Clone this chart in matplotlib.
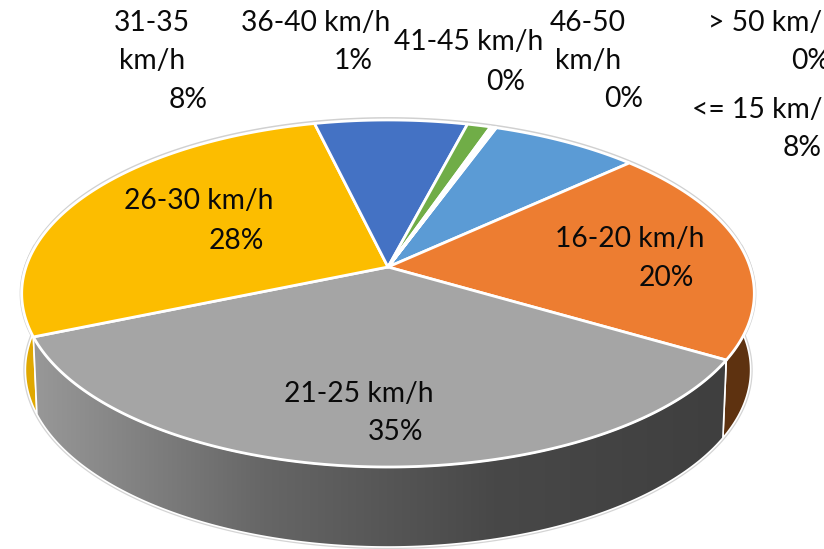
import numpy as np
import matplotlib
matplotlib.use('Agg')
import matplotlib.pyplot as plt
from matplotlib.patches import Polygon
from matplotlib.colors import LinearSegmentedColormap

categories = ['<= 15 km/h', '16-20 km/h', '21-25 km/h', '26-30 km/h', '31-35 km/h',
              '36-40 km/h', '41-45 km/h', '46-50 km/h', '> 50 km/h']
values = [7.6, 20.3, 35.2, 27.6, 7.8, 1.2, 0.15, 0.1, 0.05]
colors = ['#5B9BD5', '#ED7D31', '#A5A5A5', '#FCBD00', '#4472C4',
          '#70AD47', '#255E91', '#9E480E', '#636363']

START = 20.0
CX, APEX_Y, A, B, K = 388.0, 267.0, 362.0, -128.7, 0.1527


def top(theta):
    t = np.radians(theta)
    u, v = np.sin(t), np.cos(t)
    w = 1 + K * v
    return CX + A * u / w, (APEX_Y + B * v) / w


def low(theta):
    x, y = top(theta)
    return CX + (x - CX) * 0.99, y + 76 + (y - APEX_Y) * 0.02


def wall(a, b):
    th = np.linspace(a, b, 200)
    xt, yt = top(th)
    xl, yl = low(th)
    return np.r_[xt, xl[::-1]], np.r_[yt, yl[::-1]]


fig = plt.figure(figsize=(8.24, 5.49), dpi=100)
ax = fig.add_axes([0, 0, 1, 1])
ax.set_xlim(0, 824)
ax.set_ylim(549, 0)
ax.axis('off')

shares = np.array(values) / sum(values)
edges = START + np.r_[0, np.cumsum(shares)] * 360

# outer rim
th_all = np.linspace(0, 360, 721)
xo, yo = top(th_all)
ax.add_patch(Polygon(np.c_[xo, yo - 1.5], closed=True, fc='none', ec='#d0d0d0', lw=2, zorder=1))
x, y = wall(85, 275)
ax.add_patch(Polygon(np.c_[x, y], closed=True, fc='none', ec='#d4d4d4', lw=3, zorder=1))

# side walls
x, y = wall(85, edges[2])
ax.add_patch(Polygon(np.c_[x, y], closed=True, fc='#5E3210', ec='white', lw=1.2, zorder=2))
x, y = wall(edges[3], 275)
ax.add_patch(Polygon(np.c_[x, y], closed=True, fc='#E0A800', ec='white', lw=1.2, zorder=2))

x, y = wall(edges[2], edges[3])
cmap = LinearSegmentedColormap.from_list('wall', ['#989898', '#666666', '#484848', '#3f3f3f'])
im = ax.imshow(np.linspace(0, 1, 256)[None, :], extent=(33, 725, 549, 330), cmap=cmap,
               aspect='auto', zorder=3, interpolation='bilinear')
clip = Polygon(np.c_[x, y], closed=True, transform=ax.transData, fc='none', ec='none')
ax.add_patch(clip)
im.set_clip_path(clip)
ax.add_patch(Polygon(np.c_[x, y], closed=True, fc='none', ec='white', lw=1.2, zorder=3.5))
ax.set_xlim(0, 824)
ax.set_ylim(549, 0)

# top slices
for i, col in enumerate(colors):
    th = np.linspace(edges[i], edges[i + 1], max(int((edges[i + 1] - edges[i]) * 2), 2))
    xt, yt = top(th)
    pts = np.c_[np.r_[CX, xt], np.r_[APEX_Y, yt]]
    ax.add_patch(Polygon(pts, closed=True, fc=col, ec='white', lw=2, joinstyle='round', zorder=4))

# labels, one text per line
pct = [f'{round(v):d}%' for v in values]
lines = [
    [(categories[0], 692, 110, 'left'), (pct[0], 783, 148, 'left')],
    [(categories[1], 630, 239, 'center'), (pct[1], 666, 278, 'center')],
    [(categories[2], 359, 394, 'center'), (pct[2], 396, 432, 'center')],
    [(categories[3], 199, 201, 'center'), (pct[3], 236, 241, 'center')],
    [('31-35', 152, 23, 'center'), ('km/h', 152, 61, 'center'), (pct[4], 188, 100, 'center')],
    [(categories[5], 316, 23, 'center'), (pct[5], 353, 61, 'center')],
    [(categories[6], 469, 42, 'center'), (pct[6], 506, 82, 'center')],
    [('46-50', 588, 23, 'center'), ('km/h', 588, 61, 'center'), (pct[7], 624, 99, 'center')],
    [(categories[8], 708, 23, 'left'), (pct[8], 791, 61, 'left')],
]
for group in lines:
    for txt, tx, ty, ha in group:
        ax.text(tx, ty, txt, ha=ha, va='center', family='Lato', fontsize=20.3,
                color='#0a0a0a', zorder=6)

fig.savefig('out.png', dpi=100)
